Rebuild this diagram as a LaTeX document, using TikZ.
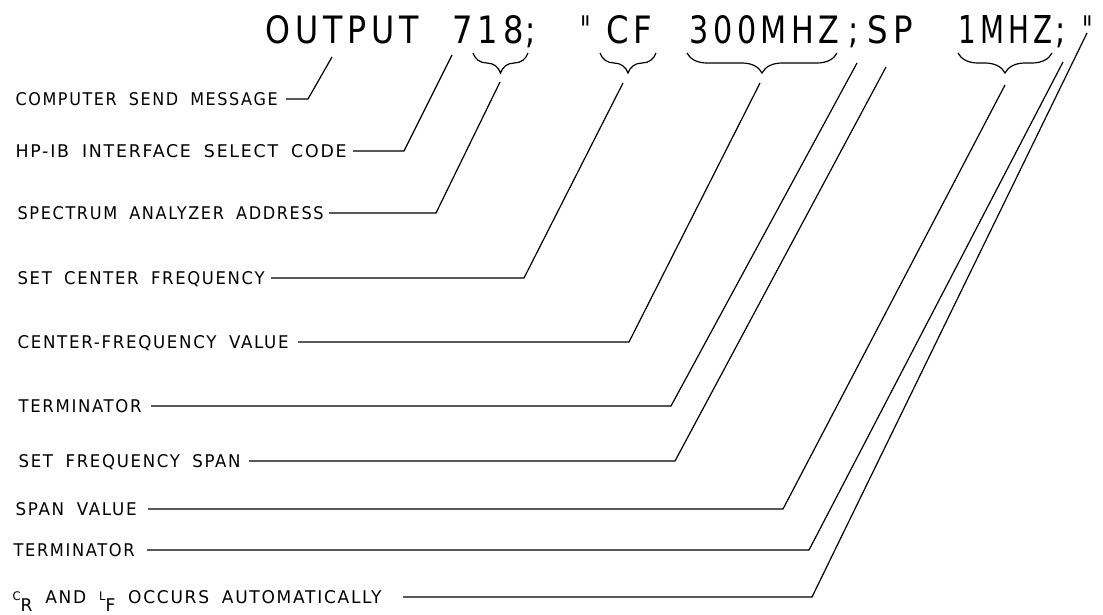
\documentclass[tikz,border=0pt]{standalone}
\usepackage{fontspec}
\usetikzlibrary{decorations.pathreplacing}
\newfontfamily\plotfont[LetterSpace=10,WordSpace=1.8]{DejaVu Sans}
\newfontfamily\titlefont[LetterSpace=15]{DejaVu Sans}
\newcommand\lw[2]{\resizebox{#1pt}{13pt}{#2}}
\newcommand\tw[2]{\resizebox{#1pt}{28pt}{#2}}
\begin{document}
\begin{tikzpicture}[x=1pt,y=-1pt,line width=1.2pt,
  lab/.style={anchor=west,inner sep=0pt,text height=13pt,text depth=0pt,font={\plotfont\fontsize{17.8}{20}\selectfont}},
  ttl/.style={anchor=base west,inner sep=0pt,font={\titlefont\fontsize{38}{40}\selectfont}},
  bracedec/.style={decorate,decoration={brace,mirror,amplitude=20pt,aspect=0.5}},
  conn/.style={line width=1.2pt,line join=miter}]
\useasboundingbox (0,0) rectangle (1103,614);
% title
\node[ttl] (tOUT) at (265,43) {\tw{153}{OUTPUT}};
\node[ttl] (t718) at (452,43) {\tw{71}{718}};
\node[ttl] (ts1) at (525,43) {\scalebox{0.8}[1]{;}};
\node[ttl] (tq1) at (580,43) {\scalebox{0.6}[1]{"}};
\node[ttl] (tCF) at (606,43) {\tw{46}{CF}};
\node[ttl] (t300) at (689,43) {\tw{150}{300MHZ}};
\node[ttl] (ts2) at (848,43) {\scalebox{0.8}[1]{;}};
\node[ttl] (tSP) at (867,43) {\tw{45}{SP}};
\node[ttl] (t1M) at (958,43) {\tw{94}{1MHZ}};
\node[ttl] (ts3) at (1055,43) {\scalebox{0.8}[1]{;}};
\node[ttl] (tq2) at (1082,43) {\scalebox{0.6}[1]{"}};
% braces
\draw[bracedec] (473,53) -- (528,53);
\draw[bracedec] (600,53) -- (656,53);
\draw[bracedec] (687,53) -- (837,53);
\draw[bracedec] (958,53) -- (1052,53);
% labels
\node[lab] (l1) at (15,99) {\lw{262}{COMPUTER SEND MESSAGE}};
\node[lab] (l2) at (15,151) {\lw{331}{HP-IB INTERFACE SELECT CODE}};
\node[lab] (l3) at (17,213) {\lw{306}{SPECTRUM ANALYZER ADDRESS}};
\node[lab] (l4) at (17,278) {\lw{247}{SET CENTER FREQUENCY}};
\node[lab] (l5) at (17,342) {\lw{271}{CENTER-FREQUENCY VALUE}};
\node[lab] (l6) at (18,406) {\lw{123}{TERMINATOR}};
\node[lab] (l7) at (18,461) {\lw{222}{SET FREQUENCY SPAN}};
\node[lab] (l8) at (15,509) {\lw{121}{SPAN VALUE}};
\node[lab] (l9) at (13,550) {\lw{121}{TERMINATOR}};
\node[lab] (l10) at (12,597) {\lw{369}{\raisebox{3pt}{\fontsize{12}{12}\selectfont C}\raisebox{-8pt}{R} AND \raisebox{3pt}{\fontsize{12}{12}\selectfont L}\raisebox{-8pt}{F} OCCURS AUTOMATICALLY}};
% connector geometry
\coordinate (s1) at (332,57);  \coordinate (c1) at (308,99);
\coordinate (s2) at (452,55);  \coordinate (c2) at (404,151);
\coordinate (s3) at (500,82);  \coordinate (c3) at (436,213);
\coordinate (s4) at (623,83);  \coordinate (c4) at (524,278);
\coordinate (s5) at (760,83);  \coordinate (c5) at (629,342);
\coordinate (s6) at (857,63);  \coordinate (c6) at (671,406);
\coordinate (s7) at (886,67);  \coordinate (c7) at (675,461);
\coordinate (s8) at (1005,85); \coordinate (c8) at (783,509);
\coordinate (s9) at (1063,62); \coordinate (c9) at (809,550);
\coordinate (s10) at (1087,33); \coordinate (c10) at (812,597);
\draw[conn] ([xshift=8pt]l1.east) -- (c1) -- (s1);
\draw[conn] ([xshift=6pt]l2.east) -- (c2) -- (s2);
\draw[conn] ([xshift=5pt]l3.east) -- (c3) -- (s3);
\draw[conn] ([xshift=6pt]l4.east) -- (c4) -- (s4);
\draw[conn] ([xshift=9pt]l5.east) -- (c5) -- (s5);
\draw[conn] ([xshift=9pt]l6.east) -- (c6) -- (s6);
\draw[conn] ([xshift=8pt]l7.east) -- (c7) -- (s7);
\draw[conn] ([xshift=11pt]l8.east) -- (c8) -- (s8);
\draw[conn] ([xshift=12pt]l9.east) -- (c9) -- (s9);
\draw[conn] ([xshift=21pt]l10.east) -- (c10) -- (s10);
\end{tikzpicture}
\end{document}
